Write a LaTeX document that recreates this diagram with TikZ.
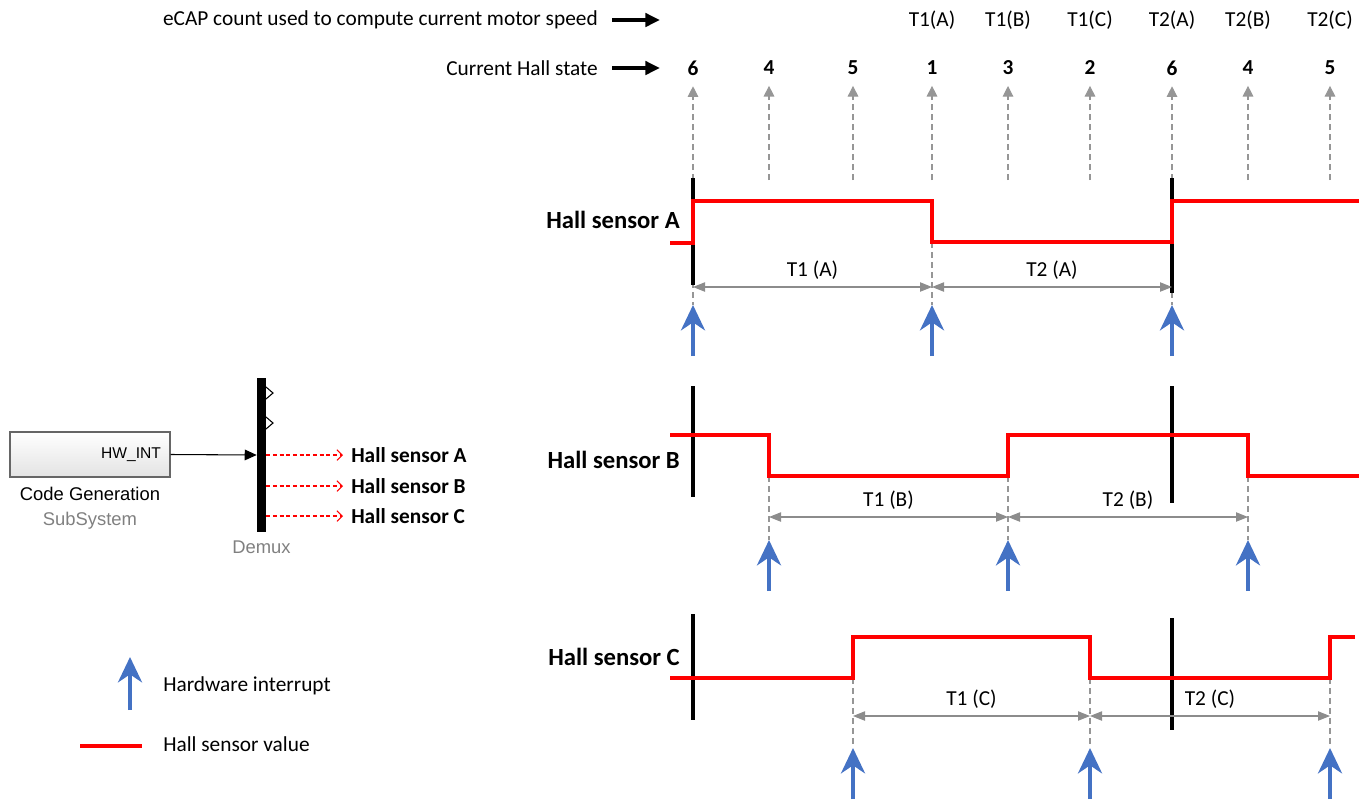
\documentclass[tikz,border=0pt]{standalone}
\usepackage{fontspec}
\setmainfont{Carlito}
\newfontfamily\simfont{Liberation Sans}
\usetikzlibrary{arrows.meta,positioning}
\definecolor{hallred}{RGB}{255,0,0}
\definecolor{irqblue}{RGB}{68,114,196}
\definecolor{dimgray}{RGB}{140,140,140}
\definecolor{guidegray}{RGB}{150,150,150}

\begin{document}
\begin{tikzpicture}[x=0.75pt,y=-0.75pt,
  every node/.style={inner sep=0pt},
  txt/.style={font=\fontsize{16}{19}\selectfont},
  num/.style={font=\fontsize{16}{19}\selectfont\bfseries},
  sensor/.style={font=\fontsize{18.5}{22}\selectfont\bfseries,anchor=east},
  outlbl/.style={font=\fontsize{16}{19}\selectfont\bfseries,anchor=west},
  simtxt/.style={font=\simfont\fontsize{13.8}{16}\selectfont},
  hwtxt/.style={font=\simfont\fontsize{11.7}{14}\selectfont},
  simblock/.style={draw=gray!80!black,line width=0.8pt,top color=white,bottom color=gray!22,
    minimum width=120pt,minimum height=33.75pt},
  guide/.style={draw=guidegray,dash pattern=on 4.5pt off 3pt,line width=0.8pt},
  upguide/.style={guide,-{Triangle[length=8pt,width=8pt]},shorten >=8pt},
  dimline/.style={draw=dimgray,line width=0.8pt,
    {Triangle[length=9pt,width=7pt]}-{Triangle[length=9pt,width=7pt]}},
  irq/.style={draw=irqblue,line width=3pt,-{Stealth[length=19pt,width=18pt,inset=6pt]}},
  wave/.style={draw=hallred,line width=2.3pt},
  bar/.style={draw=black,line width=2.3pt},
  bigarrow/.style={line width=2.6pt,-{Triangle[length=11pt,width=10pt]}},
  sigline/.style={line width=0.8pt,-{Triangle[length=9pt,width=8pt]}},
  outarrow/.style={draw=hallred,line width=0.8pt,dash pattern=on 3pt off 2pt,
    -{Straight Barb[length=4pt,width=8pt]},shorten >=6pt}]
  \useasboundingbox (0,0) rectangle (1359,800);

  % header rows
  \node[txt,anchor=east] (ecap) at (598,20) {eCAP count used to compute current motor speed};
  \node[txt,anchor=east] (state) at (598,68) {Current Hall state};
  \foreach \n in {ecap,state} \draw[bigarrow] ([xshift=10.5pt]\n.east) -- ++(48,0);
  \foreach \x/\t [count=\i] in {932/T1(A),1008/T1(B),1090/T1(C),1172/T2(A),1248/T2(B),1330/T2(C)}
    \node[txt] (ec\i) at (\x,20) {\t};
  \foreach \x/\n [count=\i] in {693/6,769/4,853/5,932/1,1008/3,1090/2,1172/6,1248/4,1330/5} {
    \node[num] (hs\i) at (\x,68) {\n};
    \draw[upguide] (\x,180) -- (hs\i.south);
  }

  % sensor rows
  \foreach \r/\ly/\a/\b/\c/\lo/\dy/\t in {A/220/693/932/1172/242/287/305,
      B/460/769/1008/1248/476/517/540,C/657/853/1090/1330/678/716/748} {
    \node[sensor] (l\r) at (680,\ly) {Hall sensor \r};
    \foreach \x in {\a,\b,\c} \draw[guide] (\x,\lo) -- (\x,\t);
  }
  \draw[bar] (693,178) -- (693,285);  \draw[bar] (1172,178) -- (1172,293);
  \draw[bar] (693,386) -- (693,497);  \draw[bar] (1172,386) -- (1172,503);
  \draw[bar] (693,614) -- (693,720);  \draw[bar] (1172,618) -- (1172,730);
  \draw[wave] (670,243) -- (693,243) -- (693,201) -- (932,201) -- (932,242)
    -- (1172,242) -- (1172,201) -- (1359,201);
  \draw[wave] (670,435) -- (769,435) -- (769,476) -- (1008,476) -- (1008,435)
    -- (1248,435) -- (1248,476) -- (1359,476);
  \draw[wave] (670,678) -- (853,678) -- (853,637) -- (1090,637) -- (1090,678)
    -- (1330,678) -- (1330,637) -- (1355,637);
  \foreach \r/\a/\b/\c/\dy/\t in {A/693/932/1172/287/305,B/769/1008/1248/517/540,
      C/853/1090/1330/716/748} {
    \draw[dimline] (\a,\dy) -- node[txt,above=5pt] {T1 (\r)} (\b,\dy);
    \draw[dimline] (\b,\dy) -- node[txt,above=5pt] {T2 (\r)} (\c,\dy);
    \foreach \x in {\a,\b,\c} \draw[irq] (\x,\t+51) -- (\x,\t);
  }

  % simulink blocks
  \node[simblock] (cgen) at (90,454.5) {};
  \node[hwtxt,anchor=east] (hwint) at ([xshift=-7pt]cgen.east) {HW\_INT};
  \node[simtxt,below=7pt of cgen] (cgname) {Code Generation};
  \node[simtxt,text=gray,below=8pt of cgname] (cgsub) {SubSystem};
  \node[fill=black,minimum width=6.75pt,minimum height=115.5pt] (demux) at (261.5,455) {};
  \node[simtxt,text=gray,below=6pt of demux] (demuxname) {Demux};
  \foreach \y in {393,423} \draw[line width=0.8pt] (266,\y-6) -- (273,\y) -- (266,\y+6);
  \draw[sigline] (cgen.east) -- (demux.west);
  \foreach \r/\y in {A/455,B/486,C/516} {
    \node[outlbl] (o\r) at (351,\y) {Hall sensor \r};
    \draw[outarrow] (demux.east |- o\r.west) -- (o\r.west);
  }

  % legend
  \node[txt,anchor=west] (legirq) at (163,686) {Hardware interrupt};
  \node[txt,anchor=west] (legval) at (163,744) {Hall sensor value};
  \draw[irq] (130,710) -- (130,657);
  \draw[wave] (80,746) -- (142,746);
\end{tikzpicture}
\end{document}
